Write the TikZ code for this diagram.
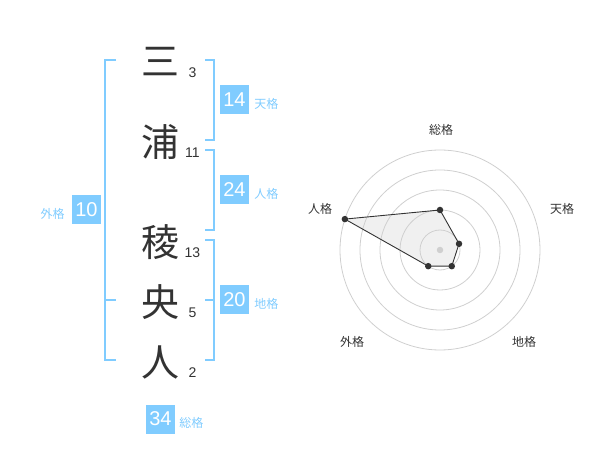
\documentclass[tikz,border=0pt]{standalone}
\usepackage{fontspec}
\setmainfont{Liberation Sans}
\newfontfamily\jp{Noto Sans CJK JP}
\usetikzlibrary{positioning,calc}
\definecolor{sky}{HTML}{80CCFF}
\definecolor{ink}{HTML}{333333}
\definecolor{ring}{HTML}{CFCFCF}

\tikzset{
  kanji/.style={font=\jp\fontsize{38}{38}\selectfont, text=ink, inner sep=0pt},
  strokes/.style={font=\fontsize{14}{14}\selectfont, text=ink, inner sep=0pt},
  score/.style={fill=sky, text=white, minimum size=29pt, inner sep=0pt, font=\fontsize{20}{20}\selectfont},
  kaku/.style={font=\jp\fontsize{12}{12}\selectfont, text=sky, inner sep=0pt, yshift=-3.5pt},
  axislabel/.style={font=\jp\fontsize{12}{12}\selectfont, text=ink, inner sep=0pt},
  bracket/.style={draw=sky, line width=2pt},
  dot/.style={circle, fill=ink, inner sep=0pt, minimum size=6.5pt}
}

\begin{document}
\begin{tikzpicture}[x=1pt,y=-1pt]
    \useasboundingbox (0,0) rectangle (600,470);

    % name, one character per line
    \node[kanji] (c1) at (160,62)  {三};
    \node[kanji] (c2) at (160,142) {浦};
    \node[kanji] (c3) at (160,242) {稜};
    \node[kanji] (c4) at (160,302) {央};
    \node[kanji] (c5) at (160,362) {人};
    \node[strokes] (n1) at (192.5,73)  {3};
    \node[strokes] (n2) at (192.5,153) {11};
    \node[strokes] (n3) at (192.5,253) {13};
    \node[strokes] (n4) at (192.5,313) {5};
    \node[strokes] (n5) at (192.5,373) {2};

    % brackets
    \draw[bracket] (116,60) --++ (-11,0) --++ (0,300) --++ (11,0);
    \draw[bracket] (105,300) --++ (11,0);
    \draw[bracket] (205,60)  --++ (9,0) --++ (0,80)  --++ (-9,0);
    \draw[bracket] (205,150) --++ (9,0) --++ (0,80)  --++ (-9,0);
    \draw[bracket] (205,240) --++ (9,0) --++ (0,120) --++ (-9,0);
    \draw[bracket] (214,300) --++ (-9,0);

    % scores
    \node[score] (ten) at (234.5,100) {14};
    \node[kaku, right=5pt of ten] (tenl) {天格};
    \node[score] (jin) at (234.5,190) {24};
    \node[kaku, right=5pt of jin] (jinl) {人格};
    \node[score] (chi) at (234.5,300) {20};
    \node[kaku, right=5pt of chi] (chil) {地格};
    \node[score] (gai) at (86.5,210) {10};
    \node[kaku, left=7pt of gai] (gail) {外格};
    \node[score] (sou) at (160.5,419) {34};
    \node[kaku, right=4pt of sou] (soul) {総格};

    % radar (y runs downwards, so angles are negated)
    \coordinate (o) at (440,250);
    \coordinate (ps) at ($(o)+(-90:40)$);
    \coordinate (pt) at ($(o)+(-18:20)$);
    \coordinate (pc) at ($(o)+(54:20)$);
    \coordinate (pg) at ($(o)+(126:20)$);
    \coordinate (pj) at ($(o)+(-162:100)$);
    \fill[black, fill opacity=0.06] (ps) -- (pt) -- (pc) -- (pg) -- (pj) -- cycle;
    \foreach \r in {20,40,60,80,100}
      \draw[ring, line width=0.8pt] (o) circle[radius=\r pt];
    \node[dot, fill=ring] (mid) at (o) {};
    \draw[ink, line width=0.9pt] (ps) -- (pt) -- (pc) -- (pg) -- (pj) -- cycle;
    \foreach \p in {s,t,c,g,j}
      \node[dot] (d\p) at (p\p) {};

    \node[axislabel] (ls) at (441,130) {総格};
    \node[axislabel] (lt) at (562,208.5) {天格};
    \node[axislabel] (lj) at (320,208.5) {人格};
    \node[axislabel] (lg) at (352,342) {外格};
    \node[axislabel] (lc) at (524,342) {地格};

\end{tikzpicture}
\end{document}
